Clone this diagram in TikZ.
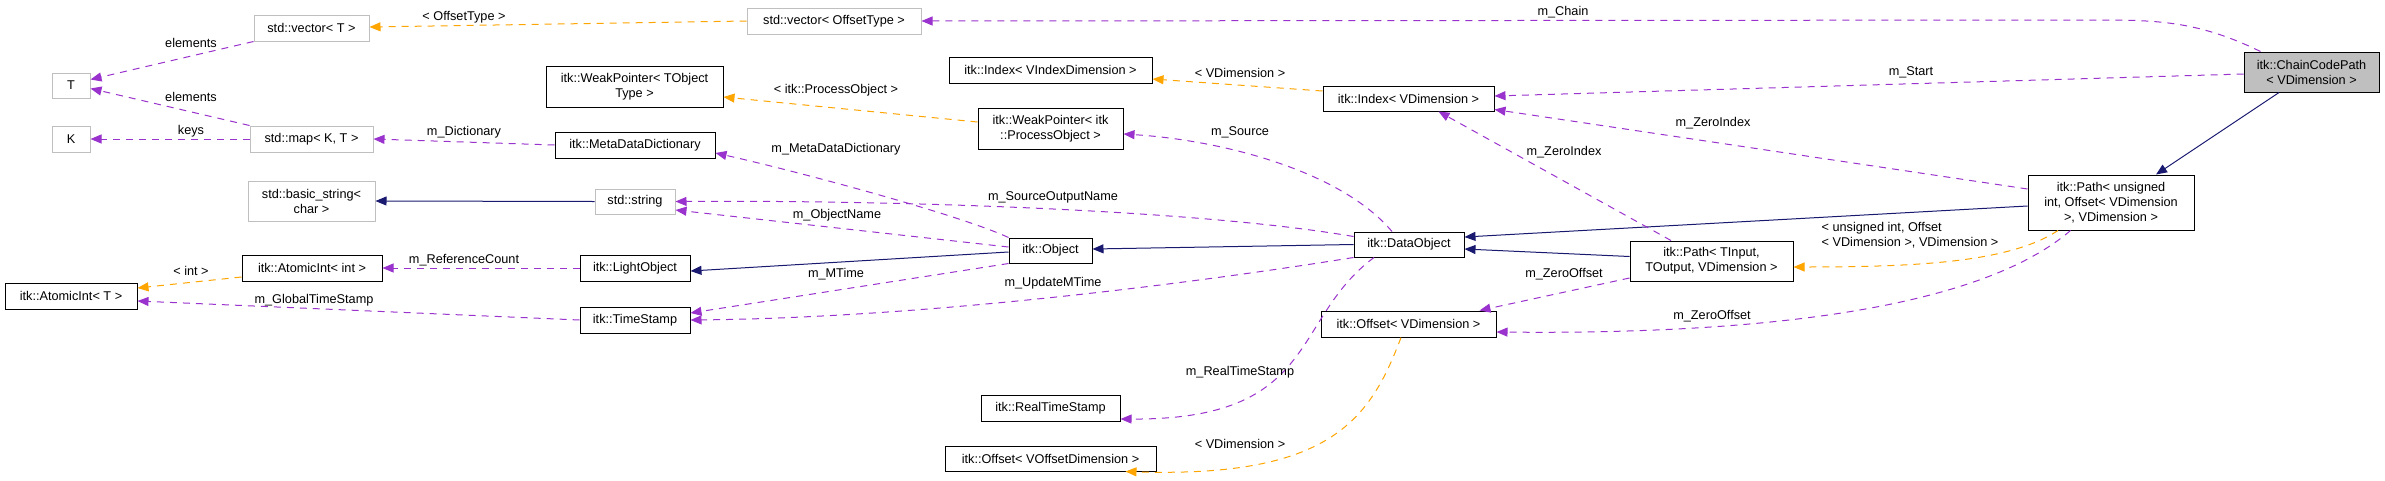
\documentclass[tikz,border=0pt]{standalone}
\usepackage{fontspec}
\setmainfont{Liberation Sans}
\usepackage{xcolor}
\usepackage{tikz}
\usetikzlibrary{arrows.meta}
\definecolor{DGPurple}{RGB}{154, 50, 205}
\definecolor{DGOrange}{RGB}{255, 165, 0}
\definecolor{DGNavy}{RGB}{25, 25, 112}
\definecolor{DGGrey}{RGB}{191, 191, 191}

\tikzset{
  cls/.style={draw=black, fill=white, line width=1pt, inner sep=0pt, align=center,
    font=\fontsize{12.7}{15}\selectfont},
  extcls/.style={cls, draw=DGGrey},
  member/.style={draw=DGPurple, line width=1pt, dash pattern=on 7pt off 6pt,
    -{Triangle[length=11pt, width=9pt]}},
  tmpl/.style={member, draw=DGOrange},
  inherit/.style={draw=DGNavy, line width=1pt, -{Triangle[length=11pt, width=9pt]}},
  lbl/.style={font=\fontsize{12.7}{15}\selectfont, inner sep=0pt},
}

\begin{document}
\begin{tikzpicture}[x=1pt, y=-1pt]
    \useasboundingbox (0,0) rectangle (2385,480);
    % classes
    \node[extcls, minimum width=38, minimum height=25] (T) at (71,85.5) {T};
    \node[extcls, minimum width=38, minimum height=26] (K) at (71,139) {K};
    \node[cls, minimum width=132, minimum height=26] (atomicT) at (71,296) {itk::AtomicInt< T >};
    \node[extcls, minimum width=115, minimum height=26] (vecT) at (311.5,28) {std::vector< T >};
    \node[extcls, minimum width=123, minimum height=26] (mapKT) at (311.5,139) {std::map< K, T >};
    \node[extcls, minimum width=127, minimum height=40] (basicStr) at (311.5,201) {std::basic\_string<\\char >};
    \node[cls, minimum width=140, minimum height=26] (atomicInt) at (312,268) {itk::AtomicInt< int >};
    \node[cls, minimum width=177, minimum height=41] (wpTObject) at (634.5,86.5) {itk::WeakPointer< TObject\\Type >};
    \node[cls, minimum width=160, minimum height=26] (metaDict) at (635,145) {itk::MetaDataDictionary};
    \node[extcls, minimum width=80, minimum height=25] (stdStr) at (635,201.5) {std::string};
    \node[cls, minimum width=110, minimum height=26] (lightObj) at (635,268) {itk::LightObject};
    \node[cls, minimum width=110, minimum height=26] (timeStamp) at (635,320) {itk::TimeStamp};
    \node[extcls, minimum width=174, minimum height=26] (vecOffset) at (834,21) {std::vector< OffsetType >};
    \node[cls, minimum width=203, minimum height=26] (idxVIndex) at (1050.5,70) {itk::Index< VIndexDimension >};
    \node[cls, minimum width=145, minimum height=41] (wpProcObj) at (1050.5,128.5) {itk::WeakPointer< itk\\::ProcessObject >};
    \node[cls, minimum width=83, minimum height=25] (object) at (1050.5,250.5) {itk::Object};
    \node[cls, minimum width=139, minimum height=26] (realTime) at (1050.5,408) {itk::RealTimeStamp};
    \node[cls, minimum width=211, minimum height=25] (offVOffset) at (1050.5,458.5) {itk::Offset< VOffsetDimension >};
    \node[cls, minimum width=171, minimum height=25] (idxVDim) at (1408.5,98.5) {itk::Index< VDimension >};
    \node[cls, minimum width=110, minimum height=25] (dataObj) at (1409,244.5) {itk::DataObject};
    \node[cls, minimum width=175, minimum height=26] (offVDim) at (1408.5,324) {itk::Offset< VDimension >};
    \node[cls, minimum width=163, minimum height=40] (pathTIn) at (1711.5,261) {itk::Path< TInput,\\ TOutput, VDimension >};
    \node[cls, minimum width=166, minimum height=55] (pathUInt) at (2111,202.5) {itk::Path< unsigned\\ int, Offset< VDimension\\ >, VDimension >};
    \node[cls, fill=DGGrey, minimum width=135, minimum height=40] (chainPath) at (2311.5,72) {itk::ChainCodePath\\< VDimension >};

    % inheritance
    \draw[inherit] (stdStr.west) -- (basicStr.east);
    \draw[inherit] ([yshift=-1.5pt]object.west) -- ([yshift=-3pt]lightObj.east);
    \draw[inherit] (dataObj.west) -- ([yshift=1.5pt]object.east);
    \draw[inherit] ([yshift=4.5pt]pathTIn.west) -- ([yshift=-4.5pt]dataObj.east);
    \draw[inherit] ([yshift=-3.5pt]pathUInt.west) -- ([yshift=7.5pt]dataObj.east);
    \draw[inherit] ([xshift=-32.5pt]chainPath.south) -- ([xshift=45pt]pathUInt.north);

    % template instances
    \draw[tmpl] (vecOffset.west) -- ([yshift=1pt]vecT.east) node[lbl, at={(464,17)}] {< OffsetType >};
    \draw[tmpl] ([yshift=6.5pt]wpProcObj.west) -- ([yshift=-10.5pt]wpTObject.east) node[lbl, at={(836,90)}] {< itk::ProcessObject >};
    \draw[tmpl] ([yshift=7.5pt]idxVDim.west) -- ([yshift=-9pt]idxVIndex.east) node[lbl, at={(1240,73)}] {< VDimension >};
    \draw[tmpl] ([yshift=-9pt]atomicInt.west) -- ([yshift=8pt]atomicT.east) node[lbl, at={(191,271)}] {< int >};
    \draw[tmpl] ([xshift=-7.5pt]offVDim.south) .. controls (1370,420) and (1330,478) .. ([xshift=75pt]offVOffset.south)
      node[lbl, at={(1240,444)}] {< VDimension >};
    \draw[tmpl] ([xshift=-53pt]pathUInt.south) .. controls (2010,262) and (1920,267) .. ([yshift=-6pt]pathTIn.east)
      node[lbl, align=left, at={(1910,235.5)}] {< unsigned int, Offset\\< VDimension >, VDimension >};

    % members
    \draw[member] (vecT.south west) -- ([yshift=6pt]T.east) node[lbl, at={(191,43)}] {elements};
    \draw[member] (mapKT.north west) -- ([yshift=-3pt]T.east) node[lbl, at={(191,97)}] {elements};
    \draw[member] (mapKT.west) -- (K.east) node[lbl, at={(191,131)}] {keys};
    \draw[member] (metaDict.west) -- (mapKT.east) node[lbl, at={(464,132)}] {m\_Dictionary};
    \draw[member] (lightObj.west) -- (atomicInt.east) node[lbl, at={(464,260)}] {m\_ReferenceCount};
    \draw[member] (timeStamp.west) -- ([yshift=-5pt]atomicT.east) node[lbl, at={(314,300)}] {m\_GlobalTimeStamp};
    \draw[member] (object.north west) .. controls (960,215) and (800,172) .. ([yshift=-8pt]metaDict.east)
      node[lbl, at={(836,149)}] {m\_MetaDataDictionary};
    \draw[member] ([yshift=3.5pt]object.west) -- ([yshift=-8.5pt]stdStr.east) node[lbl, at={(837,215)}] {m\_ObjectName};
    \draw[member] ([yshift=8pt]dataObj.west) .. controls (1200,210) and (900,200) .. (stdStr.east)
      node[lbl, at={(1053,197)}] {m\_SourceOutputName};
    \draw[member] (object.south west) -- ([yshift=7pt]timeStamp.east) node[lbl, at={(836,274)}] {m\_MTime};
    \draw[member] (dataObj.south west) .. controls (1150,290) and (900,318) .. (timeStamp.east)
      node[lbl, at={(1053,283)}] {m\_UpdateMTime};
    \draw[member] ([xshift=-17pt]dataObj.north) .. controls (1340,170) and (1220,140) .. ([yshift=-5.5pt]wpProcObj.east)
      node[lbl, at={(1240,132)}] {m\_Source};
    \draw[member] ([xshift=-35pt]dataObj.south) .. controls (1290,320) and (1320,420) .. ([yshift=-11pt]realTime.east)
      node[lbl, at={(1240,372)}] {m\_RealTimeStamp};
    \draw[member] ([xshift=17pt]chainPath.north west) .. controls (2200,22) and (2160,20) .. (2100,20) -- (vecOffset.east)
      node[lbl, at={(1563,12)}] {m\_Chain};
    \draw[member] ([yshift=-2pt]chainPath.west) -- ([yshift=2.5pt]idxVDim.east) node[lbl, at={(1911,72)}] {m\_Start};
    \draw[member] ([yshift=13.5pt]pathUInt.west) -- ([yshift=2pt]idxVDim.south east) node[lbl, at={(1713,123)}] {m\_ZeroIndex};
    \draw[member] ([xshift=-40.5pt]pathTIn.north) -- ([xshift=30pt]idxVDim.south) node[lbl, at={(1564,152)}] {m\_ZeroIndex};
    \draw[member] ([yshift=-17pt]pathTIn.west) -- ([xshift=71pt]offVDim.north) node[lbl, at={(1564,274)}] {m\_ZeroOffset};
    \draw[member] ([xshift=-40.5pt]pathUInt.south) .. controls (1990,300) and (1800,335) .. ([yshift=-8pt]offVDim.east)
      node[lbl, at={(1712,316)}] {m\_ZeroOffset};
  \end{tikzpicture}
\end{document}
